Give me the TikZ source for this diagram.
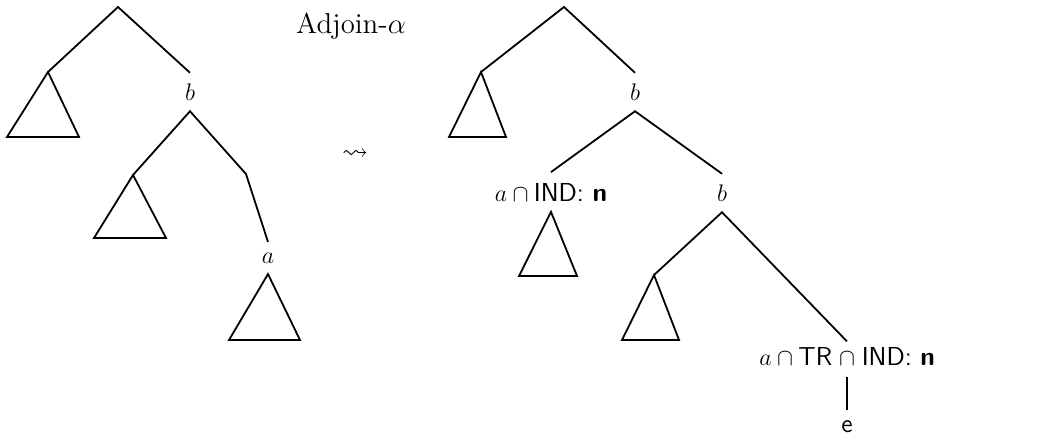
\documentclass[tikz,border=0pt]{standalone}
\usepackage{amsmath,amssymb}
\usepackage{tikz}
\usetikzlibrary{positioning}

\begin{document}
\begin{tikzpicture}[x={(0.5pt,0)},y={(0,-0.5pt)},line width=0.9pt,every node/.style={inner sep=5pt, font=\fontsize{13}{15}\selectfont}]
\useasboundingbox (0,0) rectangle (1063,438);
\coordinate (lroot) at (118,7);
\coordinate (lleft) at (48,72);
\node (lb) at (190,92) {$b$};
\coordinate (lbleft) at (133,175);
\coordinate (lbbend) at (246,174);
\node (la) at (268,258) {$a$};
\draw (lleft) -- (lroot) -- (lb.north);
\draw (lbleft) -- (lb.south) -- (lbbend) -- (la.north);
\draw (lleft) -- (7,137) -- (79,137) -- cycle;
\draw (lbleft) -- (94,238) -- (166,238) -- cycle;
\draw (la.south) -- (229,340) -- (300,340) -- cycle;
\node[font=\fontsize{14.4}{17}\selectfont] (adjoin) at (351,26) {Adjoin-$\alpha$};
\node (leads) at (355,155) {$\leadsto$};
\coordinate (rroot) at (564,7);
\coordinate (rleft) at (481,72);
\node (rb) at (635,92) {$b$};
\node (rind) at (551,192) {$a\cap\mbox{\sffamily IND: \bfseries n}$};
\node (rbb) at (722,193) {$b$};
\coordinate (rbbleft) at (654,275);
\node[inner xsep=2.5pt] (cap) at (847,359) {$\cap$};
\node[inner xsep=0pt, base left=0pt of cap] (capl) {$a\cap\mbox{\sffamily TR}$};
\node[inner xsep=0pt, base right=0pt of cap] (capr) {\sffamily IND: \bfseries n};
\node (e) at (847,427) {\sffamily e};
\draw (rleft) -- (rroot) -- (rb.north);
\draw (rind.north) -- (rb.south) -- (rbb.north);
\draw (rbbleft) -- (rbb.south) -- (cap.north);
\draw (cap.south) -- (e.north);
\draw (rleft) -- (449,137) -- (506,137) -- cycle;
\draw (rind.south) -- (519,276) -- (577,276) -- cycle;
\draw (rbbleft) -- (622,340) -- (679,340) -- cycle;
\end{tikzpicture}
\end{document}
